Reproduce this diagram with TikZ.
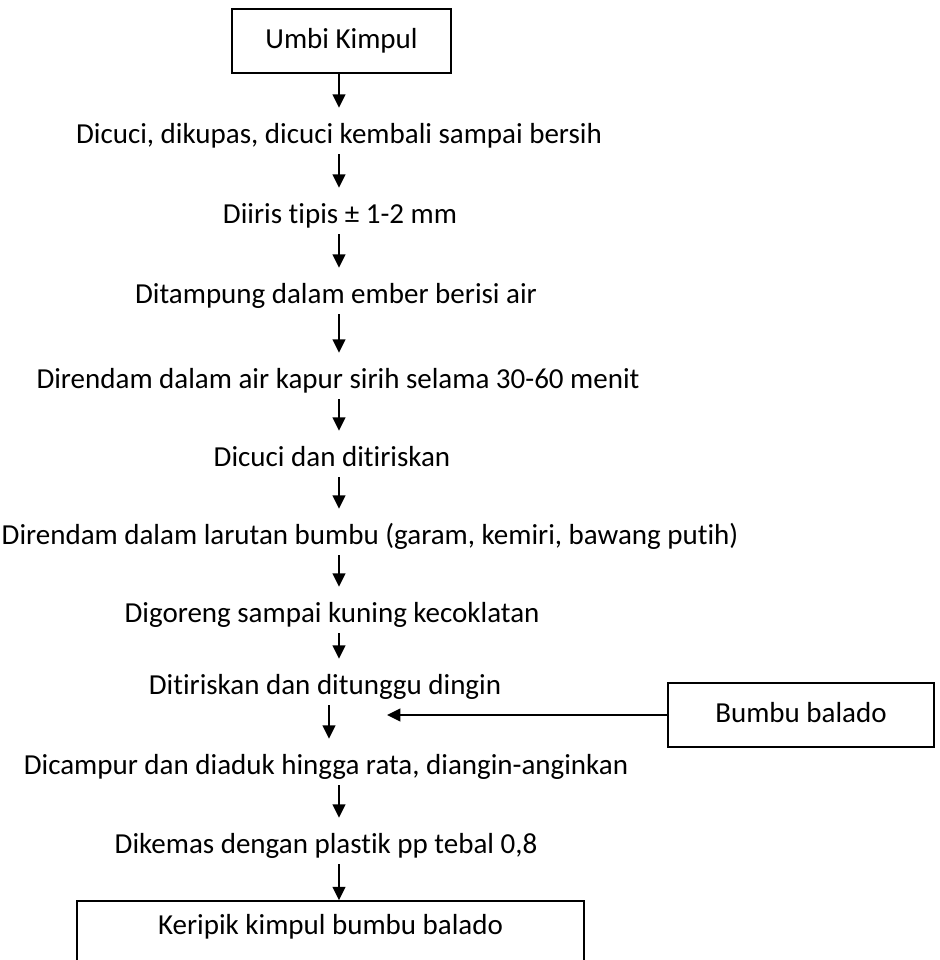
\documentclass[tikz,border=0pt]{standalone}
\usepackage{fontspec}
\setmainfont{Carlito}[Ligatures=NoCommon]
\usepackage{tikz}
\usetikzlibrary{arrows.meta}

\tikzset{
  flowbox/.style={draw, line width=1.25pt, inner sep=0pt, text height=15.5pt, text depth=4.5pt},
  flowtext/.style={anchor=base, inner xsep=0pt, inner ysep=8.25pt, text height=18pt, text depth=0pt},
  flowarrow/.style={line width=1.5pt, -{Triangle[width=9.5pt,length=10pt]}}
}

\begin{document}
\begin{tikzpicture}[x=0.75pt, y=-0.75pt, font=\fontsize{21.75pt}{26pt}\selectfont]
    \useasboundingbox (0,0) rectangle (939,960);
    % Paths, nodes and wires:
    \node[flowbox, minimum width=164.25pt, minimum height=48pt](N1) at (341.5, 41){Umbi Kimpul};
    \node[flowtext](N2) at (339, 143){Dicuci, dikupas, dicuci kembali sampai bersih};
    \node[flowtext](N3) at (340, 223){Diiris tipis ± 1-2 mm};
    \node[flowtext](N4) at (336, 303){Ditampung dalam ember berisi air};
    \node[flowtext](N5) at (338, 388){Direndam dalam air kapur sirih selama 30-60 menit};
    \node[flowtext](N6) at (332, 466){Dicuci dan ditiriskan};
    \node[flowtext](N7) at (370, 544){Direndam dalam larutan bumbu (garam, kemiri, bawang putih)};
    \node[flowtext](N8) at (332, 622){Digoreng sampai kuning kecoklatan};
    \node[flowtext](N9) at (325, 694){Ditiriskan dan ditunggu dingin};
    \node[flowtext](N10) at (326, 774){Dicampur dan diaduk hingga rata, diangin-anginkan};
    \node[flowtext](N11) at (326, 853){Dikemas dengan plastik pp tebal 0,8};
    \node[flowbox, minimum width=380.25pt, minimum height=49.5pt, text depth=15.5pt](N12) at (330.5, 934){Keripik kimpul bumbu balado};
    \node[flowbox, minimum width=199.5pt, minimum height=48pt](N13) at (801, 715){Bumbu balado};
    \coordinate (X1) at (339, 0);
    \coordinate (X2) at (329, 0);
    \coordinate (C1) at (387, 715);
    \foreach \a/\b in {N1/N2, N2/N3, N3/N4, N4/N5, N5/N6, N6/N7, N7/N8, N8/N9, N10/N11, N11/N12}
        \draw[flowarrow] (\a.south -| X1) -- (\b.north -| X1);
    \draw[flowarrow] (N9.south -| X2) -- (N10.north -| X2);
    \draw[flowarrow] (N13.west) -- (C1);
\end{tikzpicture}
\end{document}
